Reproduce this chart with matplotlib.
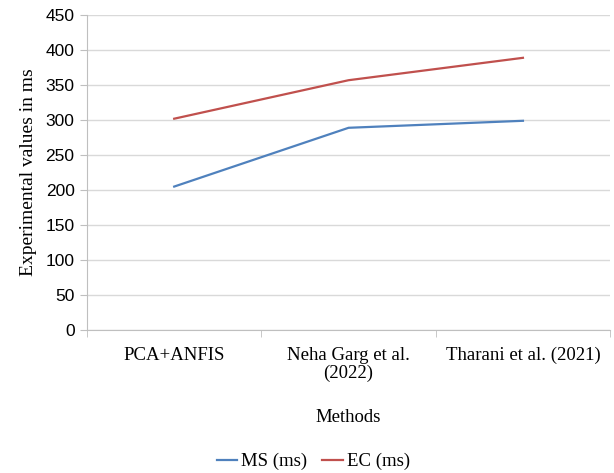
import matplotlib
matplotlib.use("Agg")
import matplotlib.pyplot as plt

methods = ["PCA+ANFIS", "Neha Garg et al.\n(2022)", "Tharani et al. (2021)"]
ms_values = [205, 289, 299]
ec_values = [302, 357, 389]

BLUE = "#4f81bd"
RED = "#c0504d"
GRID = "#d9d9d9"
AXIS = "#bfbfbf"
SERIF = "Liberation Serif"

fig = plt.figure(figsize=(6.14, 4.73), dpi=100)
ax = fig.add_axes([0.1417, 0.3023, 0.852, 0.6657])

x = [i + 0.5 for i in range(len(methods))]
ax.plot(x, ms_values, color=BLUE, lw=1.6, label="MS (ms)")
ax.plot(x, ec_values, color=RED, lw=1.6, label="EC (ms)")

ax.set_xlim(0, len(methods))
ax.set_ylim(0, 450)
ax.set_yticks(range(0, 451, 50))
ax.set_xticks(x)
ax.set_xticklabels(methods, family=SERIF, fontsize=13.5, linespacing=1.1)
ax.set_xticks(range(len(methods) + 1), minor=True)
ax.tick_params(axis="x", which="major", length=0, pad=12)
ax.tick_params(axis="x", which="minor", length=5, color=AXIS)
ax.tick_params(axis="y", length=5, color=AXIS, labelsize=12.5, pad=4)
for lab in ax.get_yticklabels():
    lab.set_family("Liberation Sans")

ax.grid(axis="y", color=GRID, lw=1)
ax.set_axisbelow(True)
for side in ["top", "right"]:
    ax.spines[side].set_visible(False)
for side in ["left", "bottom"]:
    ax.spines[side].set_color(AXIS)

ax.set_xlabel("Methods", family=SERIF, fontsize=13.5, labelpad=19)
ax.set_ylabel("Experimental values in ms", family=SERIF, fontsize=14, labelpad=6)

fig.legend(loc="lower center", bbox_to_anchor=(0.51, -0.03), ncol=2, frameon=False,
           handlelength=1.1, handletextpad=0.2, columnspacing=0.8,
           prop={"family": SERIF, "size": 13.5})

fig.savefig("out.png", dpi=100)
